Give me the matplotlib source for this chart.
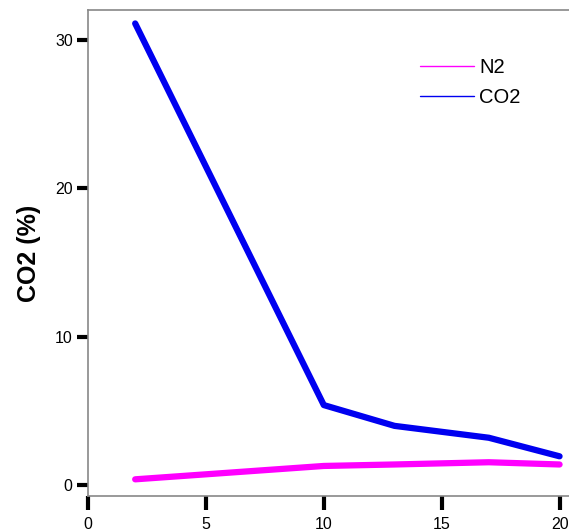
import matplotlib.pyplot as plt

plt.rcParams['font.family'] = ['Liberation Sans', 'DejaVu Sans']

depth = [2, 10, 13, 17, 20]
co2 = [31.1, 5.4, 4.0, 3.2, 1.95]
n2 = [0.4, 1.3, 1.4, 1.55, 1.4]
xticks = [0, 5, 10, 15, 20]
yticks = [0, 10, 20, 30]

fig = plt.figure(figsize=(5.69, 5.31), dpi=100)
ax = fig.add_axes([0.1547, 0.066, 0.8453, 0.915])

ax.plot(depth, n2, color='#ff00ff', lw=4.5, solid_capstyle='round', label='N2')
ax.plot(depth, co2, color='#0000f0', lw=4.5, solid_capstyle='round', label='CO2')

ax.set_xlim(0, 20.4)
ax.set_ylim(-0.72, 32.0)
ax.set_xticks(xticks)
ax.set_yticks(yticks)

for s in ['left', 'bottom', 'top']:
    ax.spines[s].set_color('#888888')
    ax.spines[s].set_linewidth(1.2)
ax.spines['right'].set_visible(False)

ax.tick_params(axis='x', direction='out', length=10, width=3, pad=5, labelsize=11.5)
ax.tick_params(axis='y', direction='out', length=8, width=3, pad=3, labelsize=11.5)

ax.set_ylabel('CO2 (%)', fontsize=18, fontweight='bold', labelpad=10)

leg = ax.legend(loc='upper right', bbox_to_anchor=(0.9375, 0.938), frameon=False,
                fontsize=14.5, handlelength=2.7, handletextpad=0.25, labelspacing=0.55)
for line in leg.get_lines():
    line.set_linewidth(1)

fig.savefig('out.png', dpi=100)
